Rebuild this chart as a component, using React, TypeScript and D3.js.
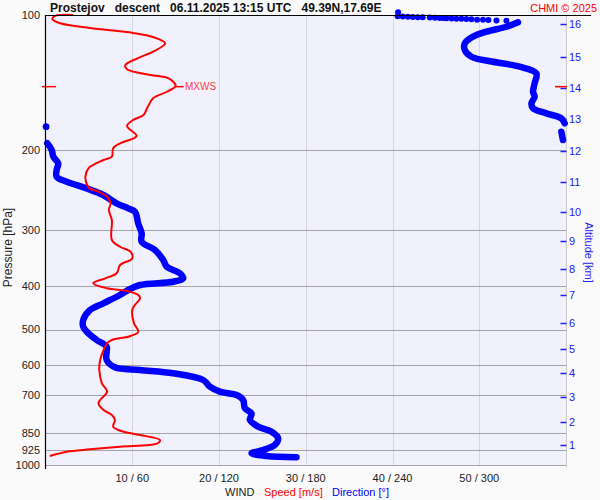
import React from 'react';
import * as d3 from 'd3';

// ---------- data ----------
const pressureTicks = [100, 200, 300, 400, 500, 600, 700, 850, 925, 1000];
const gridPressures = [200, 300, 400, 500, 600, 700, 850, 925, 1000];
const speedTicks = [10, 20, 30, 40, 50];
const dirTicks = [60, 120, 180, 240, 300];
const altKm = [1, 2, 3, 4, 5, 6, 7, 8, 9, 10, 11, 12, 13, 14, 15, 16];
const altPressure = [901.2, 801.3, 705.1, 624.5, 552.4, 482.9, 419.7, 367.3, 318.3, 273.6, 235.0, 200.3, 170.5, 145.6, 123.8, 104.9];

// wind speed [m/s] vs pressure [hPa]
const speedP = [100.0, 100.5, 102.2, 104.3, 106.9, 109.6, 111.9, 115.6, 120.6, 124.8, 129.2, 132.0, 135.9, 138.3, 143.8, 148.1, 153.2, 161.2, 166.8, 171.1, 176.5, 185.7, 192.8, 197.8, 206.5, 210.0, 219.1, 228.8, 238.7, 242.8, 247.0, 253.4, 262.1, 271.3, 285.5, 316.2, 327.3, 335.7, 347.3, 359.4, 375.0, 384.7, 394.6, 404.9, 410.5, 419.0, 426.2, 441.0, 452.4, 484.3, 505.6, 516.8, 527.5, 536.5, 555.2, 584.3, 615.0, 658.2, 687.2, 717.2, 729.3, 754.7, 774.3, 794.3, 822.0, 839.0, 857.7, 880.1, 895.2, 910.8, 922.8, 934.1, 955.0];
const speedV = [3.2, 1.1, 0.8, 1.7, 5.1, 10.1, 12.4, 13.8, 12.4, 10.6, 9.2, 9.4, 12.1, 14.2, 15.0, 14.0, 12.4, 11.7, 11.3, 10.1, 9.4, 10.5, 8.6, 7.8, 7.65, 6.7, 4.95, 4.6, 4.8, 5.1, 6.1, 7.1, 7.5, 7.3, 7.65, 7.65, 8.6, 9.8, 10.0, 8.6, 8.2, 6.9, 5.5, 7.1, 9.4, 10.7, 10.9, 10.3, 10.0, 10.2, 10.7, 9.8, 7.65, 7.1, 6.7, 6.3, 6.2, 6.5, 7.1, 6.3, 6.1, 6.7, 7.65, 8.0, 7.8, 8.6, 10.9, 13.2, 12.9, 8.6, 5.1, 2.45, 0.5];

// wind direction [deg] vs pressure [hPa] (continuous trace)
const dirP = [103.8, 106.2, 108.9, 111.7, 115.6, 119.6, 123.8, 127.0, 130.3, 134.8, 141.8, 148.1, 151.9, 157.1, 161.2, 165.4, 169.7, 174.1, 177.1, 181.7, 189.6, 192.8, 199.5, 206.5, 213.6, 221.0, 228.8, 234.7, 242.8, 251.2, 262.1, 269.0, 273.6, 290.4, 305.5, 319.0, 332.8, 350.3, 362.5, 375.0, 384.7, 391.5, 398.1, 408.4, 419.0, 437.2, 452.4, 476.1, 492.8, 509.7, 527.5, 545.8, 560.0, 584.3, 606.6, 615.0, 625.4, 647.3, 669.9, 687.2, 699.0, 717.2, 748.2, 767.6, 794.3, 822.0, 843.3, 872.2, 902.6, 926.1, 941.9, 955.0, 961.4];
const dirV = [326.8, 318.8, 305.0, 295.7, 290.0, 290.0, 294.6, 309.5, 328.0, 339.5, 338.3, 337.2, 338.3, 336.1, 337.2, 346.4, 356.8, 359.1, 0.4, 356.8, 357.9, 1.2, 4.3, 5.4, 8.8, 7.7, 7.7, 14.7, 28.5, 40.0, 49.2, 57.2, 61.9, 64.1, 66.5, 66.5, 75.7, 81.4, 83.8, 93.0, 95.2, 88.3, 65.3, 57.2, 51.5, 40.0, 30.8, 26.1, 26.1, 29.6, 35.4, 42.3, 42.3, 42.3, 48.0, 65.3, 88.3, 109.1, 113.7, 120.6, 132.2, 136.7, 137.9, 142.5, 141.4, 147.1, 156.4, 160.9, 158.6, 150.5, 142.5, 152.9, 173.6];

// sparse direction points at the start of the descent
const dirSparseP = [98.6, 100.7, 100.8, 100.9, 101.0, 101.1, 101.2, 101.3, 101.4, 101.5, 101.6, 101.7, 101.8, 101.9, 102.0, 102.1, 102.2, 102.4, 102.5, 102.6, 102.8, 103.0];
const dirSparseV = [243.9, 243.6, 247.1, 250.6, 254.0, 257.5, 260.9, 265.8, 269.3, 272.7, 275.0, 277.3, 280.8, 284.2, 287.7, 291.1, 294.6, 298.5, 302.6, 306.3, 311.9, 318.8];

const mxwsP = 144.3;
const mxwsV = 15.0;

const titleText = 'Prostejov   descent   06.11.2025 13:15 UTC   49.39N,17.69E';

// ---------- chart ----------
const W = 600;
const H = 500;
const FONT = '"Liberation Sans", Arial, sans-serif';

export default function App() {
  const left = 45.5;
  const right = 566;
  const top = 15;
  const bottom = 465;
  const y = d3.scaleLog().domain([100, 1000]).range([top, bottom]);
  const xS = d3.scaleLinear().domain([0, 60]).range([left, right]);
  const xD = d3.scaleLinear().domain([0, 360]).range([left, right]);

  const speedPts: [number, number][] = speedP.map((p, i) => [xS(speedV[i]), y(p)]);
  const line = d3.line<[number, number]>().curve(d3.curveCatmullRom.alpha(0.5));

  // split direction trace at wrap-around
  const segs: [number, number][][] = [];
  let cur: [number, number][] = [];
  dirP.forEach((p, i) => {
    if (i > 0 && Math.abs(dirV[i] - dirV[i - 1]) > 180) {
      segs.push(cur);
      cur = [];
    }
    cur.push([xD(dirV[i]), y(p)]);
  });
  segs.push(cur);

  const mx = xS(mxwsV);
  const my = y(mxwsP);

  return (
    <svg width={W} height={H} style={{ position: 'absolute', left: 0, top: 0, background: '#fafafa' }} fontFamily={FONT}>
      <rect x={0} y={0} width={W} height={H} fill="#fafafa" />
      <rect x={left} y={top} width={right - left} height={bottom - top} fill="#f1f1fd" />
      {/* vertical grid */}
      {speedTicks.map((s) => (
        <line key={'v' + s} x1={Math.round(xS(s)) + 0.5} x2={Math.round(xS(s)) + 0.5} y1={top} y2={bottom} stroke="#d6d6dc" />
      ))}
      <line x1={right + 0.5} x2={right + 0.5} y1={top} y2={bottom + 2} stroke="#c8c8cc" />
      {/* horizontal grid */}
      {gridPressures.map((p) => (
        <line key={'h' + p} x1={left} x2={right} y1={Math.round(y(p)) + 0.5} y2={Math.round(y(p)) + 0.5} stroke="#a4a4a8" />
      ))}
      {/* pressure labels */}
      {pressureTicks.map((p) => (
        <text key={'pl' + p} x={40} y={y(p)} dy="0.35em" textAnchor="end" fontSize={11} fill="#222">
          {p}
        </text>
      ))}
      {/* bottom labels */}
      {speedTicks.map((s, i) => (
        <text key={'bl' + s} x={xS(s)} y={482} textAnchor="middle" fontSize={11} fill="#222">
          {`${s} / ${dirTicks[i]}`}
        </text>
      ))}
      <text y={496} fontSize={11}>
        <tspan x={225} fill="#222">WIND</tspan>
        <tspan x={264} fill="#ff0000">Speed [m/s]</tspan>
        <tspan x={332} fill="#0000ff">Direction [°]</tspan>
      </text>
      {/* axis titles */}
      <text transform="translate(11.5,247.5) rotate(-90)" textAnchor="middle" fontSize={12} fill="#222">
        Pressure [hPa]
      </text>
      <text transform="translate(585,252.5) rotate(90)" textAnchor="middle" fontSize={11} fill="#2020ff">
        Altitude [km]
      </text>
      {/* altitude ticks */}
      {altKm.map((k, i) => (
        <g key={'alt' + k}>
          <line x1={560.5} x2={566.5} y1={Math.round(y(altPressure[i])) + 0.5} y2={Math.round(y(altPressure[i])) + 0.5} stroke="#2020ff" strokeWidth={1.5} />
          <text x={569} y={y(altPressure[i])} dy="0.35em" fontSize={11} fill="#2020ff">
            {k}
          </text>
        </g>
      ))}
      {/* direction trace */}
      {segs.map((s, i) =>
        s.length > 1 ? (
          <path key={'ds' + i} d={line(s) || ''} fill="none" stroke="#0000ff" strokeWidth={6.5} strokeLinecap="round" strokeLinejoin="round" />
        ) : (
          <circle key={'ds' + i} cx={s[0][0]} cy={s[0][1]} r={3.4} fill="#0000ff" />
        )
      )}
      {dirSparseP.map((p, i) => (
        <circle key={'sp' + i} cx={xD(dirSparseV[i])} cy={y(p)} r={3} fill="#0000ff" />
      ))}
      {/* speed trace */}
      <path d={line(speedPts) || ''} fill="none" stroke="#ff0000" strokeWidth={2} strokeLinejoin="round" />
      {/* MXWS */}
      <line x1={mx} x2={mx + 8} y1={my} y2={my} stroke="#ff0000" strokeWidth={1.5} />
      <text x={185} y={my} dy="0.35em" fontSize={10} fill="#ff4040">MXWS</text>
      <line x1={42} x2={56} y1={my} y2={my} stroke="#ff0000" strokeWidth={1.5} />
      <line x1={555} x2={567} y1={my} y2={my} stroke="#ff0000" strokeWidth={1.5} />
      {/* frame */}
      <line x1={45.5} x2={45.5} y1={top} y2={469} stroke="#000" strokeWidth={1.2} />
      <line x1={45} x2={591} y1={top + 0.5} y2={top + 0.5} stroke="#000" strokeWidth={1.2} />
      {/* titles */}
      <text x={50} y={12} fontSize={12} fontWeight="bold" fill="#111" style={{ whiteSpace: 'pre' }}>
        {titleText}
      </text>
      <text x={597} y={12} textAnchor="end" fontSize={11} fill="#ff0000">
        CHMI © 2025
      </text>
    </svg>
  );
}
